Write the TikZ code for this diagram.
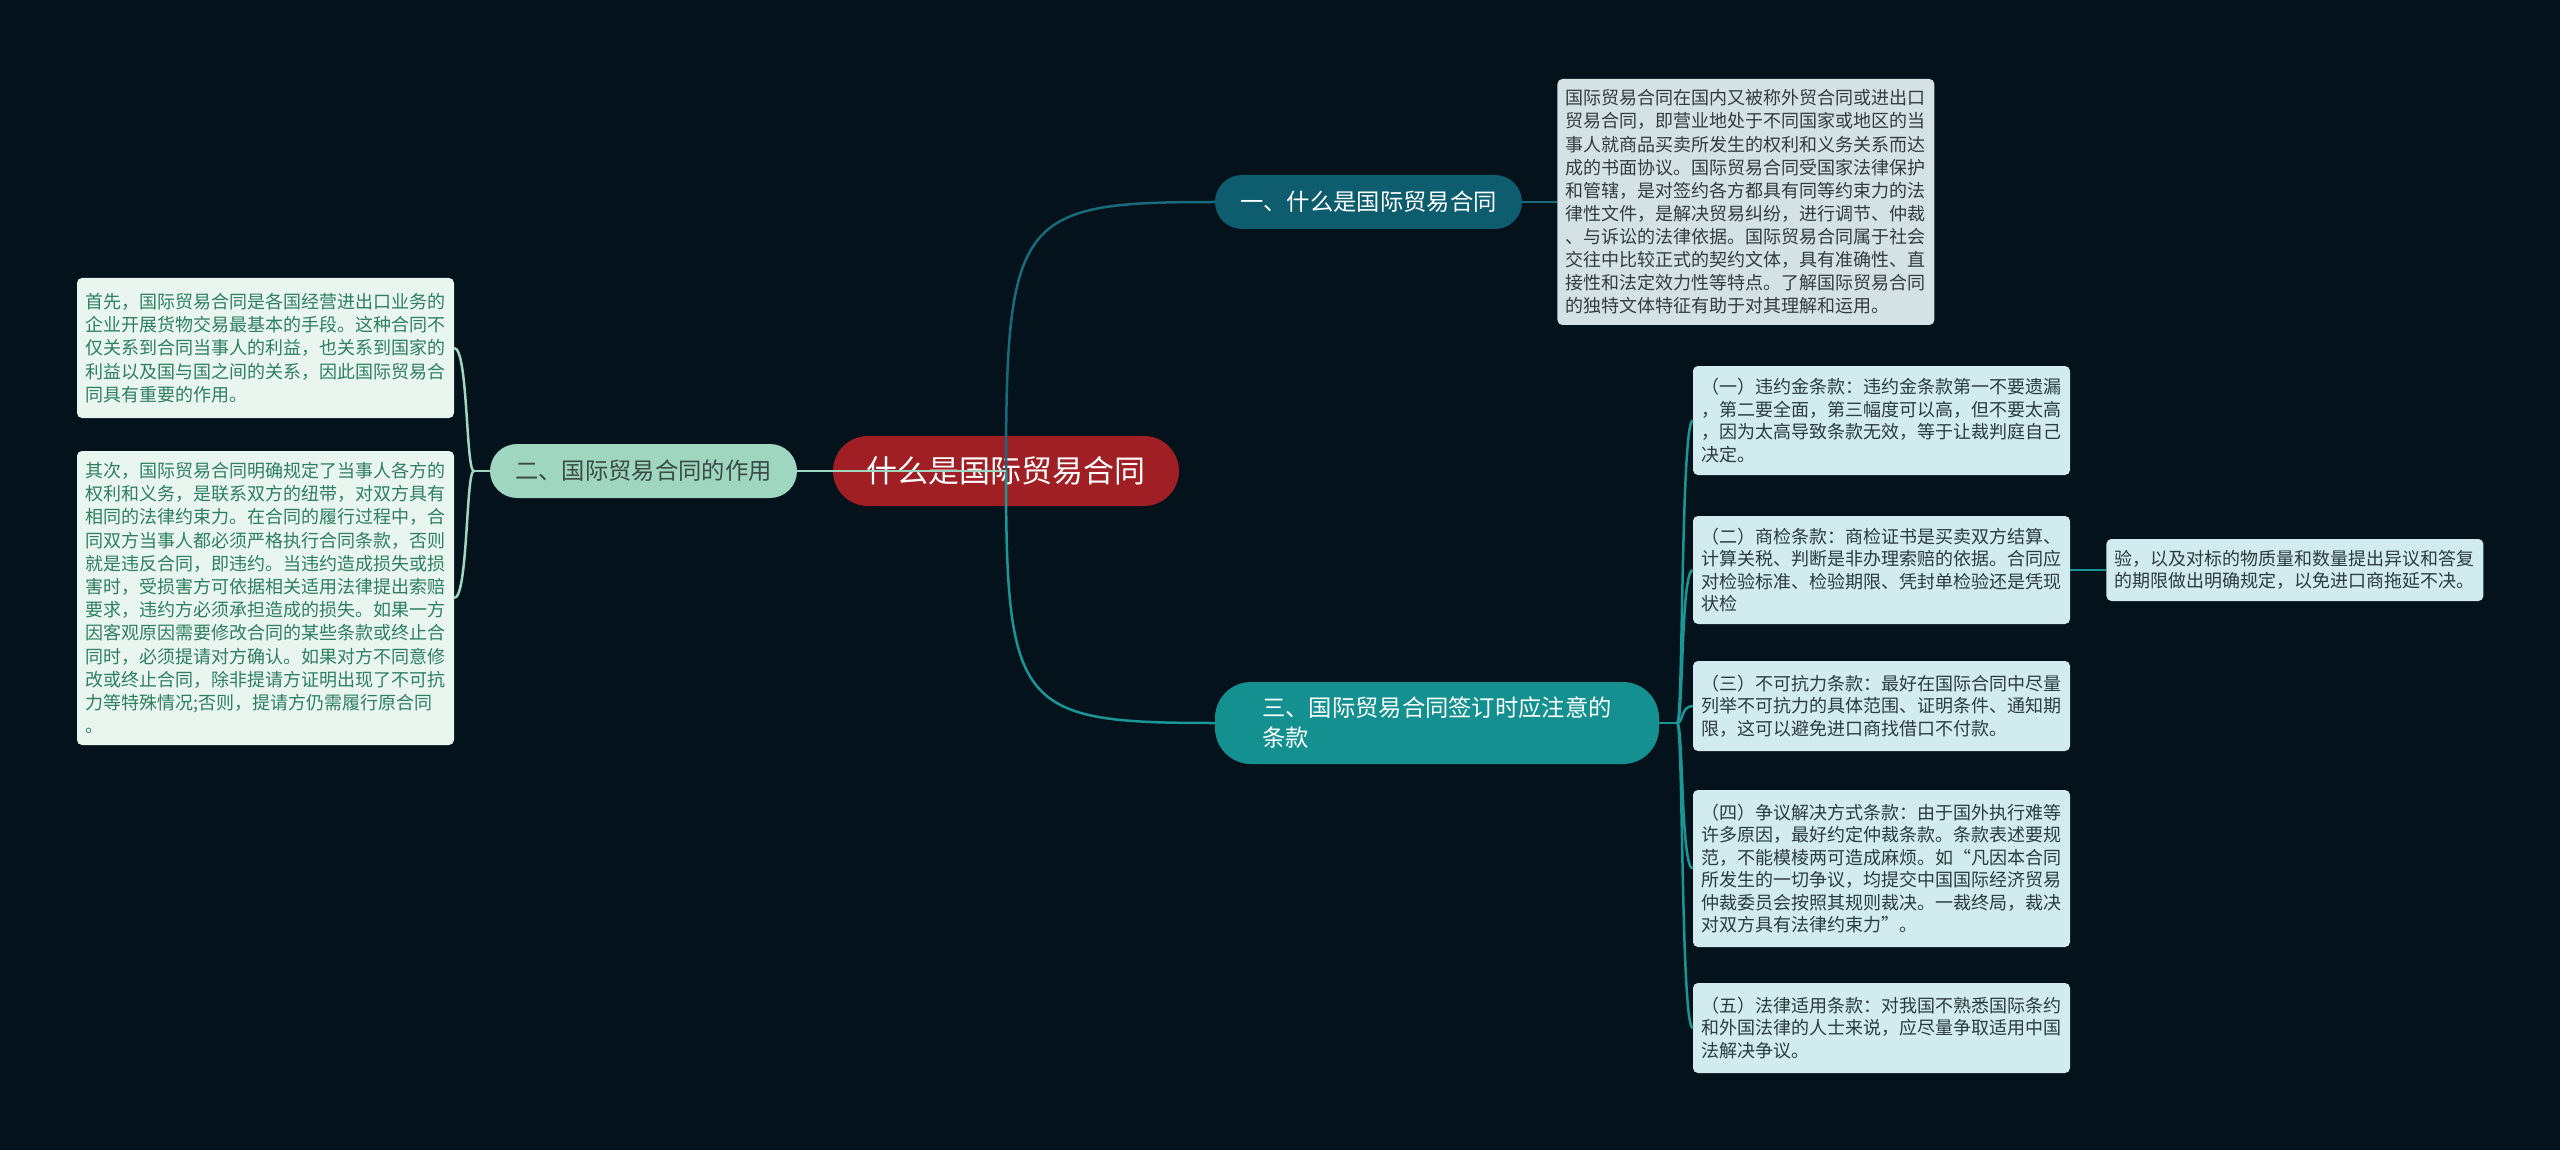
\documentclass[tikz,border=0pt]{standalone}
\usepackage{fontspec}
\newfontfamily\cjk{Noto Sans CJK SC}
\usetikzlibrary{positioning}
\definecolor{bgc}{HTML}{04121B}
\definecolor{rootc}{HTML}{A01F25}
\definecolor{onec}{HTML}{0D5D6E}
\definecolor{twoc}{HTML}{9FD6BF}
\definecolor{twot}{HTML}{3A4A46}
\definecolor{threec}{HTML}{13908F}
\definecolor{descc}{HTML}{D4E2E6}
\definecolor{desct}{HTML}{333B3E}
\definecolor{leftc}{HTML}{E9F5EF}
\definecolor{leftt}{HTML}{2F7F5F}
\definecolor{rightc}{HTML}{D2EBEE}
\definecolor{rightt}{HTML}{2B3B40}
\definecolor{onel}{HTML}{186B7A}
\definecolor{threel}{HTML}{1A9696}

\begin{document}
\begin{tikzpicture}[x=1pt,y=-1pt,
      pill/.style={rounded corners=27pt,minimum height=54pt,inner xsep=0pt,align=center,
        font=\cjk\fontsize{23.3}{30}\selectfont},
      tbox/.style={rounded corners=5pt,inner xsep=8.5pt,inner ysep=4pt,text width=360pt,align=left,
        font=\cjk\fontsize{18}{22.5}\selectfont},
      descbox/.style={tbox,fill=descc,text=desct,font=\cjk\fontsize{18}{23.1}\selectfont},
      lbox/.style={tbox,fill=leftc,text=leftt,font=\cjk\fontsize{18}{23.2}\selectfont},
      rbox/.style={tbox,fill=rightc,text=rightt,font=\cjk\fontsize{18}{22.4}\selectfont},
      lnk/.style={line width=2.5pt}]
    \fill[bgc] (0,0) rectangle (2560,1150);
    \useasboundingbox (0,0) rectangle (2560,1150);

    % main topics
    \node[pill,fill=rootc,text=white,minimum width=346pt,minimum height=70pt,rounded corners=35pt,
      font=\cjk\fontsize{31}{36}\selectfont] (r) at (1006,471) {什么是国际贸易合同};
    \node[pill,fill=onec,text=white,minimum width=307pt] (n1) at (1368.5,202) {一、什么是国际贸易合同};
    \node[pill,fill=twoc,text=twot,minimum width=307pt] (n2) at (643.5,471) {二、国际贸易合同的作用};
    \node[pill,fill=threec,text=white,minimum width=444pt,minimum height=82pt,rounded corners=36pt,
      align=left] (n3) at (1437,723) {三、国际贸易合同签订时应注意的\\条款};

    % details
    \node[descbox,minimum height=246pt,right=35pt of n1] (d1) {国际贸易合同在国内又被称外贸合同或进出口\\贸易合同，即营业地处于不同国家或地区的当\\事人就商品买卖所发生的权利和义务关系而达\\成的书面协议。国际贸易合同受国家法律保护\\和管辖，是对签约各方都具有同等约束力的法\\律性文件，是解决贸易纠纷，进行调节、仲裁\\、与诉讼的法律依据。国际贸易合同属于社会\\交往中比较正式的契约文体，具有准确性、直\\接性和法定效力性等特点。了解国际贸易合同\\的独特文体特征有助于对其理解和运用。};
    \node[lbox,minimum height=140pt] (la) at (265.5,348) {首先，国际贸易合同是各国经营进出口业务的\\企业开展货物交易最基本的手段。这种合同不\\仅关系到合同当事人的利益，也关系到国家的\\利益以及国与国之间的关系，因此国际贸易合\\同具有重要的作用。};
    \node[lbox,minimum height=294pt] (lb) at (265.5,598) {其次，国际贸易合同明确规定了当事人各方的\\权利和义务，是联系双方的纽带，对双方具有\\相同的法律约束力。在合同的履行过程中，合\\同双方当事人都必须严格执行合同条款，否则\\就是违反合同，即违约。当违约造成损失或损\\害时，受损害方可依据相关适用法律提出索赔\\要求，违约方必须承担造成的损失。如果一方\\因客观原因需要修改合同的某些条款或终止合\\同时，必须提请对方确认。如果对方不同意修\\改或终止合同，除非提请方证明出现了不可抗\\力等特殊情况;否则，提请方仍需履行原合同\\。};
    \node[rbox,minimum height=109pt] (ra) at (1881.5,420.5) {（一）违约金条款：违约金条款第一不要遗漏\\，第二要全面，第三幅度可以高，但不要太高\\，因为太高导致条款无效，等于让裁判庭自己\\决定。};
    \node[rbox,minimum height=108pt] (rb) at (1881.5,570) {（二）商检条款：商检证书是买卖双方结算、\\计算关税、判断是非办理索赔的依据。合同应\\对检验标准、检验期限、凭封单检验还是凭现\\状检};
    \node[rbox,minimum height=62pt,right=36pt of rb] (rb2) {验，以及对标的物质量和数量提出异议和答复\\的期限做出明确规定，以免进口商拖延不决。};
    \node[rbox,minimum height=90pt] (rc) at (1881.5,706) {（三）不可抗力条款：最好在国际合同中尽量\\列举不可抗力的具体范围、证明条件、通知期\\限，这可以避免进口商找借口不付款。};
    \node[rbox,minimum height=157pt] (rd) at (1881.5,868.5) {（四）争议解决方式条款：由于国外执行难等\\许多原因，最好约定仲裁条款。条款表述要规\\范，不能模棱两可造成麻烦。如“凡因本合同\\所发生的一切争议，均提交中国国际经济贸易\\仲裁委员会按照其规则裁决。一裁终局，裁决\\对双方具有法律约束力”。};
    \node[rbox,minimum height=90pt] (re) at (1881.5,1028) {（五）法律适用条款：对我国不熟悉国际条约\\和外国法律的人士来说，应尽量争取适用中国\\法解决争议。};

    % links
    \draw[lnk,onel] (r.center) .. controls +(0,-256) and +(-195,0) .. (n1.west);
    \draw[lnk,onel] (n1.east) -- (d1.west);
    \draw[lnk,threel] (r.center) .. controls +(0,239) and +(-195,0) .. (n3.west);
    \draw[lnk,twoc] (r.center) -- (n2.east);

    \coordinate[left=16pt of n2.west] (j2);
    \draw[lnk,twoc] (n2.west) -- (j2);
    \foreach \b in {la,lb}
      \draw[lnk,twoc] (j2) .. controls +(-8,0) and +(14,0) .. (\b.east);

    \coordinate[right=18pt of n3.east] (j3);
    \draw[lnk,threel] (n3.east) -- (j3);
    \foreach \b in {ra,rb,rc,rd,re}
      \draw[lnk,threel] (j3) .. controls +(6,0) and +(-12,0) .. (\b.west);
    \draw[lnk,threel] (rb.east) -- (rb2.west);
  \end{tikzpicture}
\end{document}
